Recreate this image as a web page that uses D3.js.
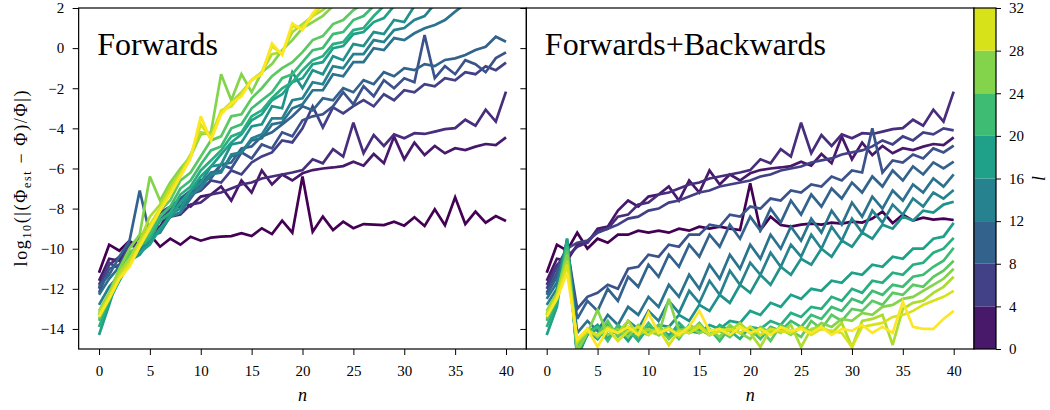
<!DOCTYPE html>
<html>
<head>
<meta charset="utf-8">
<title>Forwards vs Forwards+Backwards</title>
<script src="https://d3js.org/d3.v7.min.js"></script>
<style>
  body { margin: 0; background: #fff; }
  svg text { font-family: "Liberation Serif", "DejaVu Serif", serif; fill: #000; }
</style>
</head>
<body>
<svg id="chart" width="1050" height="410"></svg>
<script>
// l value of each curve (colour), n = 0..40 along x
const lValues = [0, 2, 4, 6, 8, 10, 12, 14, 16, 18, 20, 22, 24, 26, 28, 30, 32];
const nTicks = [0, 5, 10, 15, 20, 25, 30, 35, 40];
const yTicks = [-14, -12, -10, -8, -6, -4, -2, 0, 2];
const cbarTicks = [0, 4, 8, 12, 16, 20, 24, 28, 32];

// Forwards: log10 relative error, one array per l (cut once the curve leaves the top)
const fwdL0 = [-11.2,-9.8,-10.1,-9.6,-10.0,-9.3,-9.9,-9.5,-9.8,-9.4,-9.6,-9.45,-9.4,-9.37,-9.23,-9.37,-8.98,-9.27,-8.6,-9.2,-6.4,-9.15,-8.4,-9.07,-8.65,-8.98,-8.77,-8.8,-8.82,-8.65,-8.85,-8.43,-8.87,-8.04,-8.83,-7.44,-8.77,-8.15,-8.7,-8.37,-8.62];
const fwdL2 = [-11.6,-10.5,-10.6,-9.8,-9.7,-9.0,-8.9,-8.1,-7.6,-7.9,-7.4,-7.3,-6.9,-7.6,-6.6,-7.2,-6.1,-6.8,-6.3,-6.6,-6.24,-6.08,-6.0,-5.95,-5.88,-5.66,-5.86,-5.28,-5.74,-4.41,-5.54,-4.71,-5.33,-4.88,-5.24,-4.99,-5.08,-4.91,-4.78,-4.83,-4.45];
const fwdL4 = [-11.8,-10.8,-10.4,-9.9,-9.7,-9.1,-9.0,-8.4,-8.3,-7.8,-7.7,-7.3,-7.2,-7.0,-6.8,-6.7,-6.5,-6.4,-6.3,-6.2,-6.08,-5.54,-5.74,-5.04,-5.41,-3.72,-5.24,-4.33,-4.88,-4.3,-4.49,-4.24,-4.28,-4.16,-4.04,-3.99,-3.57,-3.87,-3.07,-3.66,-2.17];
const fwdL6 = [-12.0,-10.7,-11.0,-9.8,-10.0,-8.9,-8.6,-8.0,-7.9,-7.3,-7.1,-6.6,-6.7,-6.1,-6.3,-5.7,-5.4,-5.2,-4.6,-4.7,-4.0,-2.9,-3.95,-2.95,-3.25,-2.89,-2.59,-2.9,-2.3,-2.6,-2.1,-2.2,-1.8,-1.9,-1.5,-1.6,-1.2,-1.3,-0.9,-1.1,-0.72];
const fwdL8 = [-12.2,-11.0,-10.8,-9.9,-9.4,-8.9,-8.2,-7.9,-7.5,-7.1,-6.6,-6.4,-5.8,-6.0,-5.2,-5.5,-4.8,-5.0,-4.2,-4.4,-3.6,-3.4,-3.3,-2.9,-2.2,-2.8,-1.9,-2.4,-1.6,-2.0,-1.5,-1.7,0.65,-1.5,-0.9,-1.3,-0.6,-0.8,-1.2,-0.5,-0.21];
const fwdL10 = [-11.9,-11.3,-10.4,-9.6,-7.1,-9.3,-8.6,-8.3,-7.6,-7.3,-6.6,-6.5,-5.8,-5.7,-5.0,-4.9,-4.4,-4.2,-3.8,-3.4,-2.9,-3.1,-2.5,-2.6,-2.0,-2.2,-1.6,-1.8,-1.2,-1.4,-1.0,-1.1,-0.8,-0.9,-0.59,-0.51,-0.34,-0.09,0.07,0.57,0.32];
const fwdL12 = [-12.3,-11.5,-10.9,-10.2,-9.9,-9.3,-9.1,-8.4,-8.2,-7.5,-6.8,-6.2,-6.1,-5.4,-5.2,-4.6,-4.5,-3.8,-3.7,-3.0,-2.8,-2.1,-2.1,-1.3,-1.4,-0.7,-0.7,0.0,-0.1,0.5,0.4,0.74,0.99,1.15,1.4,1.82,2.2];
const fwdL14 = [-12.8,-11.9,-11.3,-10.4,-10.1,-9.4,-9.2,-8.4,-8.2,-7.3,-7.0,-6.3,-6.2,-5.3,-5.2,-4.5,-4.3,-3.5,-3.5,-2.6,-2.5,-1.7,-1.8,-0.9,-1.0,-0.3,-0.3,0.4,0.3,0.9,1.0,1.4,1.6,2.2];
const fwdL16 = [-13.3,-12.3,-11.6,-10.6,-10.3,-9.6,-9.1,-8.3,-8.0,-7.1,-6.7,-5.9,-5.8,-4.8,-4.7,-3.9,-3.8,-2.9,-3.0,-1.2,-2.0,-1.1,-1.3,-0.4,-0.6,0.2,0.1,0.8,0.7,1.4,1.3,2.1];
const fwdL18 = [-14.3,-12.8,-11.2,-10.6,-10.2,-9.8,-9.0,-8.4,-7.7,-7.1,-6.4,-5.9,-5.3,-4.7,-4.3,-3.6,-3.3,-2.6,-2.3,-1.7,-1.5,-0.8,-0.7,0.0,0.1,0.7,0.8,1.3,1.5,2.1];
const fwdL20 = [-13.9,-12.6,-11.6,-10.7,-9.9,-9.5,-8.6,-8.2,-7.3,-6.9,-6.1,-5.6,-5.1,-4.4,-4.2,-3.4,-3.1,-2.5,-2.0,-1.7,-1.1,-0.6,-0.4,0.2,0.3,0.9,1.0,1.6,2.1];
const fwdL22 = [-13.6,-12.5,-11.4,-10.4,-9.9,-9.3,-8.4,-7.9,-7.0,-6.6,-5.8,-5.1,-4.9,-4.0,-3.8,-3.0,-2.6,-2.2,-1.5,-1.3,-0.7,-0.1,0.0,0.7,0.8,1.4,1.6,2.1];
const fwdL24 = [-13.5,-12.4,-11.3,-10.2,-9.8,-9.1,-8.1,-7.6,-6.6,-6.2,-5.4,-4.6,-4.4,-3.4,-3.3,-2.5,-2.0,-1.4,-1.0,-0.7,-0.2,0.4,0.6,1.2,1.4,1.9,2.2];
const fwdL26 = [-13.1,-12.2,-11.0,-10.0,-9.3,-6.4,-7.6,-6.7,-6.0,-5.4,-4.3,-4.2,-1.3,-2.6,-1.3,-2.2,-1.2,-0.8,-0.1,0.4,1.0,1.3,1.6,2.1];
const fwdL28 = [-13.2,-12.3,-11.2,-10.5,-9.6,-8.4,-7.8,-6.9,-6.2,-5.3,-4.2,-4.3,-3.2,-2.7,-2.2,-1.6,-1.2,-0.3,-0.2,0.8,1.2,1.6,1.9,2.3];
const fwdL30 = [-13.3,-12.4,-11.4,-10.7,-9.8,-8.8,-8.0,-7.1,-6.3,-5.4,-3.8,-4.5,-3.1,-2.9,-2.3,-1.6,-1.2,0.1,-0.3,1.1,1.0,1.6,2.2];
const fwdL32 = [-13.4,-12.5,-11.5,-10.9,-9.9,-9.0,-8.1,-7.3,-6.4,-5.5,-3.4,-4.6,-3.3,-2.75,-2.4,-1.6,-1.3,0.24,-0.34,1.24,0.9,1.73,2.3];

// Forwards+Backwards (l = 2, 4 follow the same curves as Forwards)
const fbL0 = [-11.2,-9.8,-10.1,-9.2,-10.0,-9.5,-9.7,-9.3,-9.3,-9.1,-9.2,-9.1,-9.2,-9.0,-9.1,-8.9,-9.0,-8.9,-9.0,-9.07,-6.74,-9.07,-8.4,-8.82,-8.9,-8.8,-8.75,-8.8,-8.7,-8.75,-8.65,-8.7,-8.5,-8.15,-8.73,-8.3,-8.6,-8.45,-8.55,-8.5,-8.57];
const fbL2 = fwdL2;
const fbL4 = fwdL4;
const fbL6 = [-12.0,-10.9,-10.0,-9.7,-9.6,-9.2,-9.0,-8.8,-8.5,-8.4,-8.1,-8.0,-7.7,-7.6,-7.4,-7.2,-7.1,-6.9,-6.8,-6.7,-6.6,-6.4,-6.3,-6.1,-6.0,-5.9,-5.7,-5.6,-5.5,-5.3,-5.2,-5.1,-4.9,-4.6,-4.8,-4.4,-4.6,-4.2,-4.3,-4.0,-4.1];
const fbL8 = [-12.2,-11.2,-9.9,-13.0,-12.4,-12.2,-11.8,-12.0,-11.0,-10.9,-10.3,-10.4,-9.8,-9.9,-9.3,-9.3,-8.8,-8.9,-8.3,-8.4,-7.9,-8.0,-7.5,-7.6,-7.1,-7.2,-6.8,-6.9,-6.4,-6.6,-6.1,-6.2,-4.0,-6.2,-5.6,-5.7,-5.3,-5.5,-5.0,-5.2,-4.86];
const fbL10 = [-12.3,-11.4,-9.8,-13.5,-12.6,-13.1,-12.0,-12.6,-11.4,-11.9,-10.8,-11.4,-10.3,-10.9,-9.8,-10.4,-9.3,-9.9,-8.8,-9.5,-8.4,-9.1,-8.0,-8.7,-7.6,-8.3,-7.3,-7.9,-7.0,-7.5,-6.7,-7.2,-6.4,-6.9,-6.1,-6.6,-5.9,-6.3,-5.7,-6.0,-5.66];
const fbL12 = [-12.5,-11.7,-9.7,-14.2,-13.6,-14.1,-13.3,-13.8,-12.9,-13.3,-12.4,-12.9,-11.8,-12.4,-11.3,-12.0,-10.8,-11.5,-10.3,-11.0,-9.8,-10.5,-9.3,-10.0,-8.9,-9.6,-8.5,-9.2,-8.1,-8.8,-7.7,-8.4,-7.4,-8.0,-7.1,-7.6,-6.8,-7.2,-6.5,-6.9,-6.3];
const fbL14 = [-12.8,-12.0,-9.6,-15.4,-14.1,-14.5,-13.8,-14.3,-13.6,-14.0,-13.1,-13.6,-12.6,-13.2,-12.1,-12.7,-11.6,-12.3,-11.1,-11.8,-10.7,-11.3,-10.2,-10.9,-9.8,-10.4,-9.3,-10.0,-8.9,-9.6,-8.5,-9.2,-8.1,-8.7,-7.8,-8.3,-7.5,-7.9,-7.2,-7.5,-7.07];
const fbL16 = [-13.3,-12.2,-9.5,-15.3,-14.3,-14.0,-14.5,-13.9,-14.3,-14.0,-14.2,-13.8,-13.9,-13.3,-13.6,-12.8,-13.1,-12.3,-12.7,-11.8,-12.2,-11.3,-11.8,-10.9,-11.3,-10.5,-10.8,-10.0,-10.4,-9.6,-9.9,-9.2,-9.5,-8.8,-9.0,-8.4,-8.6,-8.1,-8.2,-7.8,-7.66];
const fbL18 = [-14.3,-12.9,-9.5,-15.5,-14.2,-13.8,-14.4,-14.0,-14.6,-13.9,-14.2,-14.0,-14.3,-13.9,-14.1,-14.2,-13.8,-14.0,-13.6,-13.7,-13.1,-13.3,-12.7,-12.9,-12.3,-12.5,-12.0,-12.1,-11.6,-11.7,-11.2,-11.3,-10.8,-10.9,-10.4,-10.5,-10.0,-10.0,-9.5,-9.4,-8.71];
const fbL20 = [-13.9,-12.7,-9.7,-14.8,-14.0,-14.5,-13.8,-14.3,-14.0,-14.6,-13.9,-14.1,-14.4,-13.7,-14.2,-14.0,-14.3,-13.8,-14.1,-14.5,-13.9,-14.0,-13.6,-13.8,-13.2,-13.4,-12.9,-13.0,-12.4,-12.6,-12.0,-12.2,-11.6,-11.7,-11.2,-11.3,-10.8,-10.7,-10.2,-10.0,-9.46];
const fbL22 = [-13.6,-12.5,-9.9,-15.2,-14.2,-13.9,-14.6,-13.8,-14.2,-14.4,-13.7,-14.3,-14.0,-14.5,-13.8,-14.1,-14.0,-14.6,-13.9,-14.2,-14.0,-14.5,-13.9,-14.1,-13.6,-13.9,-13.3,-13.5,-12.9,-13.1,-12.5,-12.7,-12.1,-12.3,-11.8,-11.9,-11.4,-11.3,-10.9,-10.6,-9.96];
const fbL24 = [-13.5,-12.4,-10.1,-14.9,-14.1,-14.3,-13.6,-14.4,-13.9,-14.1,-14.3,-13.8,-14.5,-14.0,-14.2,-13.7,-14.3,-14.1,-14.4,-13.9,-14.2,-14.0,-14.6,-13.8,-14.1,-14.4,-13.6,-14.0,-13.3,-13.6,-13.0,-13.1,-12.6,-12.8,-12.2,-12.3,-11.8,-11.9,-11.4,-11.1,-10.6];
const fbL26 = [-13.1,-12.2,-10.3,-15.1,-14.2,-13.05,-14.3,-14.0,-14.4,-13.8,-14.1,-14.3,-12.5,-14.1,-13.9,-14.2,-14.0,-14.4,-13.8,-14.2,-14.5,-13.9,-14.2,-14.0,-14.3,-13.9,-14.1,-13.7,-13.9,-13.5,-13.6,-13.2,-13.3,-12.9,-12.8,-12.5,-12.4,-12.1,-11.8,-11.5,-11.0];
const fbL28 = [-13.2,-12.3,-10.6,-14.7,-14.0,-14.4,-13.9,-14.2,-13.6,-14.3,-14.0,-14.2,-13.9,-14.4,-14.0,-13.8,-14.3,-14.0,-14.1,-13.7,-14.2,-14.9,-14.0,-14.2,-13.8,-14.9,-14.0,-13.9,-14.2,-13.7,-14.9,-13.6,-13.5,-13.3,-14.8,-13.0,-12.7,-12.6,-12.2,-11.9,-11.4];
const fbL30 = [-13.3,-12.4,-10.8,-14.6,-14.1,-14.3,-14.0,-14.6,-14.1,-13.9,-14.3,-14.0,-14.8,-14.1,-14.2,-13.9,-14.3,-14.1,-14.0,-14.2,-13.9,-14.3,-14.0,-14.1,-14.2,-13.9,-14.3,-14.0,-14.1,-14.2,-14.9,-13.9,-13.8,-13.7,-13.4,-13.3,-13.1,-12.8,-12.6,-12.4,-12.1];
const fbL32 = [-13.4,-12.5,-11.2,-14.5,-14.0,-14.9,-14.0,-14.2,-13.9,-14.3,-13.2,-14.2,-14.0,-14.3,-13.9,-13.1,-14.1,-14.0,-14.3,-13.9,-14.2,-14.0,-14.3,-13.9,-14.1,-14.0,-14.2,-13.9,-14.3,-14.0,-14.1,-13.8,-14.2,-13.9,-14.2,-12.64,-13.9,-14.0,-14.0,-13.5,-13.1];

const fwdSeries = [fwdL0, fwdL2, fwdL4, fwdL6, fwdL8, fwdL10, fwdL12, fwdL14, fwdL16, fwdL18, fwdL20, fwdL22, fwdL24, fwdL26, fwdL28, fwdL30, fwdL32];
const fbSeries = [fbL0, fbL2, fbL4, fbL6, fbL8, fbL10, fbL12, fbL14, fbL16, fbL18, fbL20, fbL22, fbL24, fbL26, fbL28, fbL30, fbL32];

const svg = d3.select("#chart");
const plotTop = 8, plotBottom = 349, panelW = 447.7;
const y = d3.scaleLinear().domain([-15, 2]).range([plotBottom, plotTop]);
const color = d3.scaleSequential(d3.interpolateViridis).domain([0, 32]);

const panels = [
  { title: "Forwards", left: 78.65, series: fwdSeries, labels: true },
  { title: "Forwards+Backwards", left: 526.35, series: fbSeries, labels: false }
];

panels.forEach((p, pi) => {
  const x = d3.scaleLinear().domain([-2, 42]).range([p.left, p.left + panelW]);
  const g = svg.append("g");

  g.append("clipPath").attr("id", "clip" + pi)
    .append("rect").attr("x", p.left).attr("y", plotTop)
    .attr("width", panelW).attr("height", plotBottom - plotTop);

  const line = d3.line().x((d, i) => x(i)).y(d => y(d));

  g.append("g").attr("clip-path", "url(#clip" + pi + ")")
    .selectAll("path")
    .data(p.series)
    .join("path")
    .attr("d", d => line(d))
    .attr("fill", "none")
    .attr("stroke", (d, i) => color(lValues[i]))
    .attr("stroke-width", 2.7)
    .attr("stroke-linejoin", "miter")
    .attr("stroke-miterlimit", 3);

  // x axis
  const xAxis = g.append("g").attr("transform", "translate(0," + plotBottom + ")")
    .call(d3.axisBottom(x).tickValues(nTicks).tickSize(6).tickPadding(10.5).tickSizeOuter(0));
  xAxis.select(".domain").remove();
  xAxis.selectAll("text").style("font-size", "15px");

  // y axis
  const yAxis = g.append("g").attr("transform", "translate(" + p.left + ",0)")
    .call(d3.axisLeft(y).tickValues(yTicks).tickSize(6).tickPadding(8.5).tickSizeOuter(0));
  yAxis.select(".domain").remove();
  yAxis.selectAll("text").style("font-size", "15px");
  if (!p.labels) yAxis.selectAll("text").remove();

  // frame
  g.append("rect").attr("x", p.left).attr("y", plotTop)
    .attr("width", panelW).attr("height", plotBottom - plotTop)
    .attr("fill", "none").attr("stroke", "#000").attr("stroke-width", 1.2);

  g.append("text").attr("x", p.left + 18.5).attr("y", 55)
    .style("font-size", "32px").text(p.title);

  g.append("text").attr("x", x(20)).attr("y", 401)
    .attr("text-anchor", "middle")
    .style("font-size", "18px").style("font-style", "italic").text("n");
});

// y label
const ylab = svg.append("text")
  .attr("transform", "translate(27," + ((plotTop + plotBottom) / 2) + ") rotate(-90)")
  .attr("text-anchor", "middle")
  .attr("textLength", 176)
  .attr("lengthAdjust", "spacing")
  .style("font-size", "18px");
ylab.append("tspan").text("log");
ylab.append("tspan").attr("dy", 4).style("font-size", "12px").text("10");
ylab.append("tspan").attr("dy", -4).text("(|(Φ");
ylab.append("tspan").attr("dy", 4).style("font-size", "12px").text("est");
ylab.append("tspan").attr("dy", -4).text(" − Φ)/Φ|)");

// colour bar
const cbX = 974, cbW = 22;
const cbScale = d3.scaleLinear().domain([0, 32]).range([plotBottom, plotTop]);
const cb = svg.append("g");
cb.selectAll("rect.bin")
  .data(d3.pairs(cbarTicks))
  .join("rect")
  .attr("class", "bin")
  .attr("x", cbX).attr("width", cbW)
  .attr("y", d => cbScale(d[1]))
  .attr("height", d => cbScale(d[0]) - cbScale(d[1]))
  .attr("fill", d => color((d[0] + d[1]) / 2));
cb.append("rect").attr("x", cbX).attr("y", plotTop).attr("width", cbW).attr("height", plotBottom - plotTop)
  .attr("fill", "none").attr("stroke", "#000").attr("stroke-width", 1.2);
const cbAxis = cb.append("g").attr("transform", "translate(" + (cbX + cbW) + ",0)")
  .call(d3.axisRight(cbScale).tickValues(cbarTicks).tickSize(5).tickPadding(8).tickSizeOuter(0));
cbAxis.select(".domain").remove();
cbAxis.selectAll("text").style("font-size", "15px");

svg.append("text")
  .attr("transform", "translate(1045," + ((plotTop + plotBottom) / 2) + ") rotate(-90)")
  .attr("text-anchor", "middle")
  .style("font-size", "18px").style("font-style", "italic").text("l");
</script>
</body>
</html>
